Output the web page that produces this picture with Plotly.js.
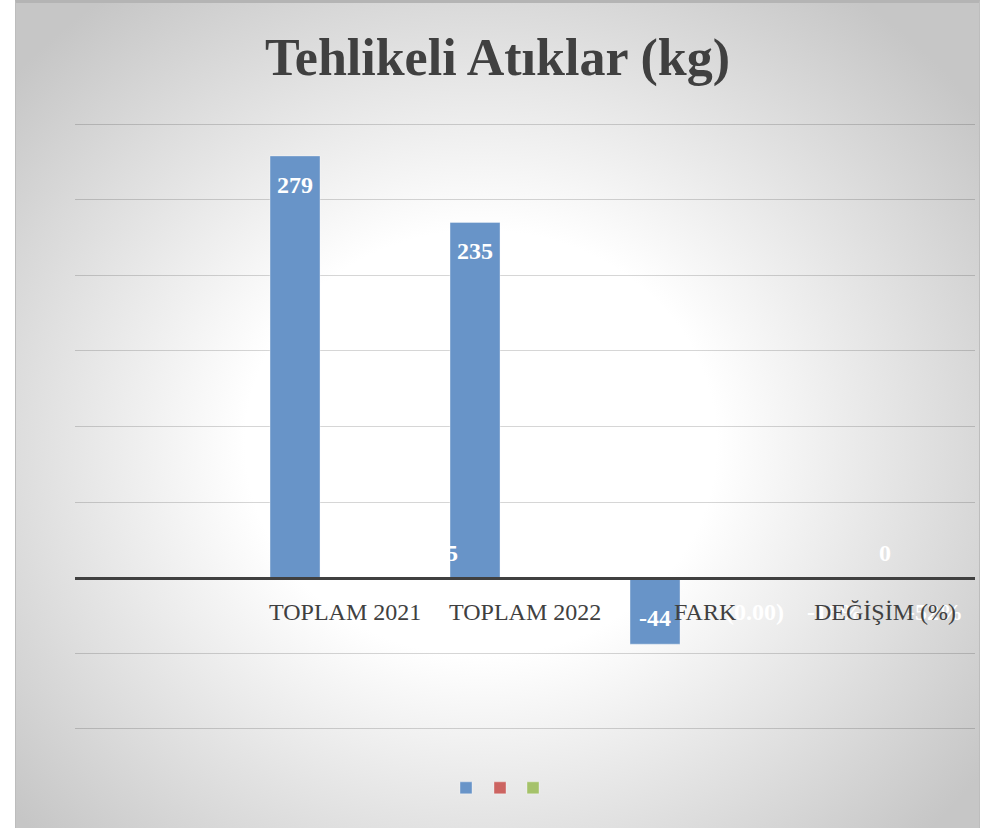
<!DOCTYPE html>
<html>
<head>
<meta charset="utf-8">
<script src="https://cdn.plot.ly/plotly-3.0.1.min.js"></script>
<style>
  html, body { margin: 0; padding: 0; background: #ffffff; width: 998px; height: 828px; overflow: hidden; }
  #frame {
    position: absolute; left: 15px; top: 0px; width: 965px; height: 828px;
    background: radial-gradient(ellipse 620px 560px at 465px 440px, #ffffff 0%, #ffffff 38%, #c6c6c6 100%);
    border-left: 1px solid #bdbdbd; border-right: 1px solid #bdbdbd; border-top: 3px solid #b4b4b4;
    box-sizing: border-box;
  }
  #chart { position: absolute; left: 15px; top: 0px; width: 965px; height: 828px; }
</style>
</head>
<body>
<div id="frame"></div>
<div id="chart"></div>
<script>
// ---- data ----
var categories = [" ", "TOPLAM 2021", "TOPLAM 2022", "FARK", "DEĞİŞİM (%)"];
var seriesBlue  = [null, 279, 235, -44, -0.1577];
var labelsBlue  = ["", "279", "235", "-44", "-16%"];
var seriesRed   = [null, 0, 0, 0, 0];
var labelsRed   = ["", "", "", "", "0"];
var seriesGreen = [null, 0, 0, -0.004, -0.0052];
var labelsGreen = ["", "0.000000005", "", "(0.00)", "-52%"];
var seriesColors = ["#6894c8", "#cc6461", "#a5c26a"];
var yTicks = [-100, -50, 0, 50, 100, 150, 200, 250, 300];

var W = 965, H = 828;
var M = {l: 60, r: 5, t: 123, b: 98};
var BARGAP = 0.167;
var SERIF = "Liberation Serif, DejaVu Serif, serif";

var labelFont = {family: SERIF, size: 24, color: "#ffffff", weight: "bold"};
var catFont = {family: SERIF, size: 24, color: "#404040"};

var allSeries = [seriesBlue, seriesRed, seriesGreen];
var allLabels = [labelsBlue, labelsRed, labelsGreen];
var legendIds = ["legend", "legend2", "legend3"];

var data = allSeries.map(function (vals, k) {
  return {
    type: "bar",
    x: categories,
    y: vals,
    name: " ",
    legend: legendIds[k],
    marker: {color: seriesColors[k], line: {color: "rgba(255,255,255,0.35)", width: 1}},
    hoverinfo: "skip"
  };
});

// data labels, placed at each bar's value (inside end for tall bars, outside end for tiny ones)
var slotPx = (W - M.l - M.r) / categories.length;
var barPx = slotPx * (1 - BARGAP) / allSeries.length;
var annotations = [];
allSeries.forEach(function (vals, k) {
  vals.forEach(function (v, i) {
    var t = allLabels[k][i];
    if (v === null || !t) return;
    var tall = Math.abs(v) > 10;
    var shift;
    if (tall) shift = v > 0 ? -29 : 26;
    else shift = v >= 0 ? 25 : -34;
    annotations.push({
      x: categories[i], y: v, xref: "x", yref: "y",
      xshift: (k - (allSeries.length - 1) / 2) * barPx,
      yshift: shift,
      text: t, showarrow: false,
      xanchor: "center", yanchor: "middle",
      font: labelFont
    });
  });
});
// category labels sit just under the zero line, drawn on top of the data labels
categories.forEach(function (c) {
  if (!c.trim()) return;
  annotations.push({
    x: c, y: 0, xref: "x", yref: "y", yshift: -34,
    text: c, showarrow: false, xanchor: "center", yanchor: "middle",
    font: catFont
  });
});

function legendAt(px) {
  return {
    orientation: "h",
    x: px / W, xref: "container", xanchor: "left",
    y: 0.048, yref: "container", yanchor: "middle",
    itemwidth: 30,
    font: {size: 14, color: "#404040"},
    bgcolor: "rgba(0,0,0,0)"
  };
}

var layout = {
  width: W,
  height: H,
  paper_bgcolor: "rgba(0,0,0,0)",
  plot_bgcolor: "rgba(0,0,0,0)",
  margin: {l: M.l, r: M.r, t: M.t, b: M.b, pad: 0},
  barmode: "group",
  bargap: BARGAP,
  bargroupgap: 0,
  showlegend: true,
  annotations: annotations,
  title: {
    text: "Tehlikeli Atıklar (kg)",
    font: {family: SERIF, size: 52, color: "#404040", weight: "bold"},
    x: 0.5, xref: "container", xanchor: "center",
    y: 0.932, yref: "container", yanchor: "middle"
  },
  xaxis: {
    type: "category",
    anchor: "free",
    position: 0.2512,
    showline: true,
    linecolor: "#404040",
    linewidth: 3,
    layer: "above traces",
    showgrid: false,
    zeroline: false,
    ticks: "",
    showticklabels: false,
    fixedrange: true
  },
  yaxis: {
    range: [-100.8, 300.8],
    tickvals: yTicks,
    showticklabels: false,
    showgrid: true,
    gridcolor: "rgba(0,0,0,0.16)",
    gridwidth: 1,
    zeroline: false,
    showline: false,
    ticks: "",
    fixedrange: true
  },
  legend: legendAt(431),
  legend2: legendAt(465),
  legend3: legendAt(498)
};

Plotly.newPlot("chart", data, layout, {displayModeBar: false, staticPlot: true});
</script>
</body>
</html>
